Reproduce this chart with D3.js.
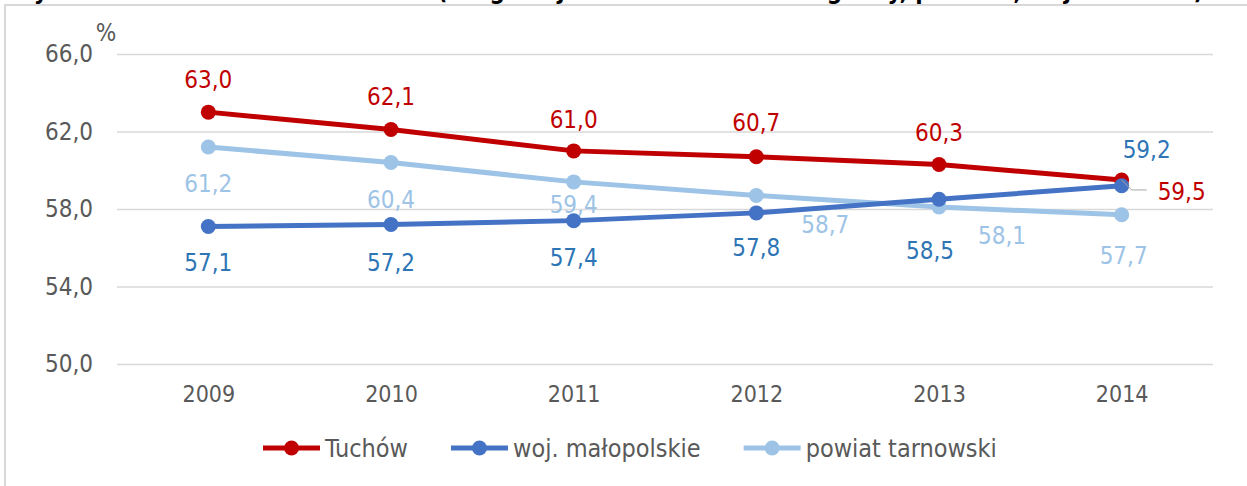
<!DOCTYPE html>
<html>
<head>
<meta charset="utf-8">
<script src="https://cdn.jsdelivr.net/npm/d3@7"></script>
<style>
  html, body { margin: 0; padding: 0; background: #fff; }
  svg { display: block; font-family: "DejaVu Sans Condensed", "DejaVu Sans", sans-serif; }
</style>
</head>
<body>
<div id="chart"></div>
<script>
// data
const years = ['2009', '2010', '2011', '2012', '2013', '2014'];
const tuchow = [63.0, 62.1, 61.0, 60.7, 60.3, 59.5];
const malopolskie = [57.1, 57.2, 57.4, 57.8, 58.5, 59.2];
const tarnowski = [61.2, 60.4, 59.4, 58.7, 58.1, 57.7];
const yTicks = [50, 54, 58, 62, 66];
const seriesNames = ['Tuchów', 'woj. małopolskie', 'powiat tarnowski'];

// label offsets from the point (dx, dy), hand placed like in the original
const tuchowLabelPos = [[0, -33], [0, -33], [0, -31], [0, -34], [0, -32], [60, 12]];
const malopolskieLabelPos = [[0, 36], [0, 38], [0, 37], [0, 35], [-9, 51], [25, -36]];
const tarnowskiLabelPos = [[0, 37], [0, 37], [0, 23], [69, 29], [63, 29], [2, 41]];

const width = 1247;
const height = 486;
const plot = { left: 117, right: 1213, top: 54, bottom: 364 };

const series = [
  { name: seriesNames[0], values: tuchow, pos: tuchowLabelPos, color: '#C00000', labelColor: '#C00000' },
  { name: seriesNames[1], values: malopolskie, pos: malopolskieLabelPos, color: '#4472C4', labelColor: '#2E75B6' },
  { name: seriesNames[2], values: tarnowski, pos: tarnowskiLabelPos, color: '#9DC3E6', labelColor: '#9DC3E6' }
];

const fmt = d3.formatLocale({ decimal: ',', thousands: ' ', grouping: [3], currency: ['', ''] }).format('.1f');

const svg = d3.select('#chart')
  .append('svg')
  .attr('width', width)
  .attr('height', height);

// title, cut off at the top of the picture
svg.append('text')
  .attr('x', 10)
  .attr('y', -1)
  .attr('font-weight', 'bold')
  .attr('font-size', 24)
  .attr('fill', '#000')
  .text('Wykres 3. Udział ludności w wieku (w ogólnej liczbie mieszkańców gminy, powiatu, województwa)');

// frame
svg.append('path')
  .attr('d', `M5,${height} V5 H${width}`)
  .attr('fill', 'none')
  .attr('stroke', '#D9D9D9')
  .attr('stroke-width', 2);

const x = d3.scalePoint()
  .domain(years)
  .range([plot.left, plot.right])
  .padding(0.5);

const y = d3.scaleLinear()
  .domain([50, 66])
  .range([plot.bottom, plot.top]);

// y axis with grid lines
const yAxis = d3.axisLeft(y)
  .tickValues(yTicks)
  .tickSize(-(plot.right - plot.left))
  .tickPadding(24)
  .tickFormat(fmt);

svg.append('g')
  .attr('class', 'y-axis')
  .attr('transform', `translate(${plot.left},0)`)
  .call(yAxis)
  .call(g => g.select('.domain').remove())
  .call(g => g.selectAll('.tick line').attr('stroke', '#D9D9D9').attr('stroke-width', 1.5))
  .call(g => g.selectAll('.tick text')
    .attr('fill', '#595959')
    .attr('font-size', 24)
    .attr('font-family', '"DejaVu Sans Condensed", sans-serif'));

svg.append('text')
  .attr('x', 106)
  .attr('y', 33)
  .attr('dy', '0.35em')
  .attr('text-anchor', 'middle')
  .attr('fill', '#595959')
  .attr('font-size', 24)
  .text('%');

// x axis labels
const xAxis = d3.axisBottom(x).tickSize(0).tickPadding(22);

svg.append('g')
  .attr('class', 'x-axis')
  .attr('transform', `translate(0,${plot.bottom})`)
  .call(xAxis)
  .call(g => g.select('.domain').remove())
  .call(g => g.selectAll('.tick text')
    .attr('fill', '#595959')
    .attr('font-size', 23)
    .attr('font-family', '"DejaVu Sans Condensed", sans-serif'));

const line = d3.line()
  .x((d, i) => x(years[i]))
  .y(d => y(d));

// draw order: tarnowski, tuchow, malopolskie (malopolskie marker sits on top at 2014)
const drawOrder = [series[2], series[0], series[1]];

drawOrder.forEach(s => {
  svg.append('path')
    .datum(s.values)
    .attr('fill', 'none')
    .attr('stroke', s.color)
    .attr('stroke-width', 5)
    .attr('stroke-linejoin', 'round')
    .attr('d', line);

  svg.selectAll(null)
    .data(s.values)
    .enter()
    .append('circle')
    .attr('cx', (d, i) => x(years[i]))
    .attr('cy', d => y(d))
    .attr('r', 7.5)
    .attr('fill', s.color);
});

// leader line for the Tuchów 2014 label
const lastI = years.length - 1;
const lx = x(years[lastI]);
const ly = y(tuchow[lastI]);
svg.append('path')
  .attr('d', `M${lx},${ly} L${lx + 10},${ly + 10} H${lx + 25}`)
  .attr('fill', 'none')
  .attr('stroke', '#A6A6A6')
  .attr('stroke-width', 1);

// data labels
series.forEach(s => {
  svg.selectAll(null)
    .data(s.values)
    .enter()
    .append('text')
    .attr('x', (d, i) => x(years[i]) + s.pos[i][0])
    .attr('y', (d, i) => y(d) + s.pos[i][1])
    .attr('dy', '0.35em')
    .attr('text-anchor', 'middle')
    .attr('fill', s.labelColor)
    .attr('font-size', 24)
    .text(d => fmt(d));
});

// legend
const legend = svg.append('g')
  .attr('class', 'legend')
  .attr('transform', 'translate(263,448)');
let legendX = 0;
series.forEach(s => {
  const item = legend.append('g').attr('transform', `translate(${legendX},0)`);
  item.append('line')
    .attr('x1', 0).attr('x2', 57)
    .attr('y1', 0).attr('y2', 0)
    .attr('stroke', s.color)
    .attr('stroke-width', 5);
  item.append('circle')
    .attr('cx', 28.5).attr('cy', 0).attr('r', 7.5)
    .attr('fill', s.color);
  const t = item.append('text')
    .attr('x', 62)
    .attr('dy', '0.35em')
    .attr('fill', '#595959')
    .attr('font-size', 25)
    .text(s.name);
  legendX += 62 + t.node().getComputedTextLength() + 43;
});
</script>
</body>
</html>
